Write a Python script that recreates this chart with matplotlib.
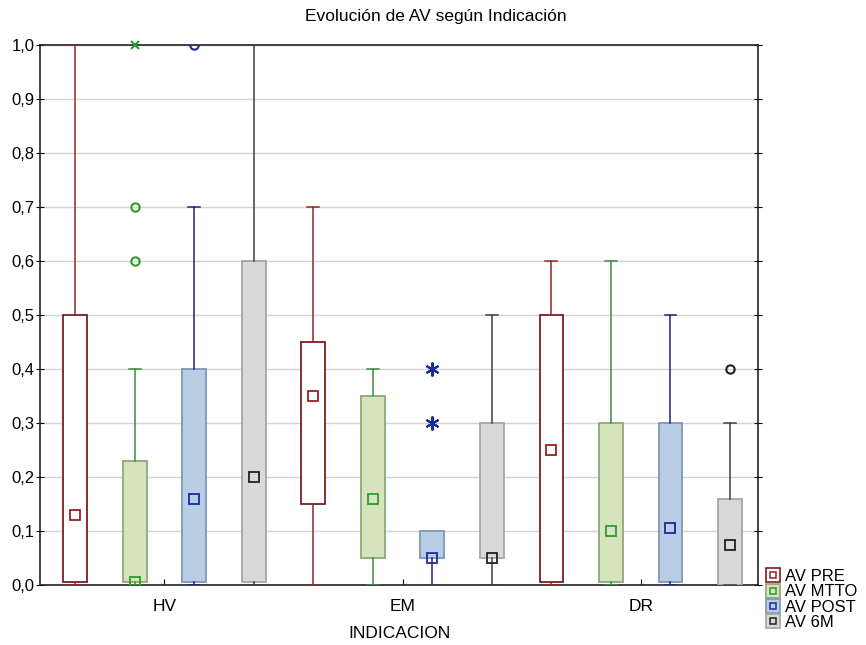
import matplotlib
matplotlib.use("Agg")
import matplotlib.pyplot as plt
from matplotlib.lines import Line2D
from matplotlib.legend_handler import HandlerTuple
from matplotlib.ticker import FuncFormatter, MultipleLocator

plt.rcParams['font.family'] = ['Liberation Sans', 'DejaVu Sans']

groups = ["HV", "EM", "DR"]
series = ["AV PRE", "AV MTTO", "AV POST", "AV 6M"]

# per series: values for HV, EM, DR
q1 = {"AV PRE": [0.005, 0.15, 0.005], "AV MTTO": [0.005, 0.05, 0.005],
      "AV POST": [0.005, 0.05, 0.005], "AV 6M": [0.005, 0.05, 0.0]}
q3 = {"AV PRE": [0.5, 0.45, 0.5], "AV MTTO": [0.23, 0.35, 0.3],
      "AV POST": [0.4, 0.1, 0.3], "AV 6M": [0.6, 0.3, 0.16]}
wlo = {"AV PRE": [0.0, 0.0, 0.0], "AV MTTO": [0.0, 0.0, 0.0],
       "AV POST": [0.0, 0.0, 0.0], "AV 6M": [0.0, 0.0, 0.0]}
whi = {"AV PRE": [1.0, 0.7, 0.6], "AV MTTO": [0.4, 0.4, 0.6],
       "AV POST": [0.7, 0.1, 0.5], "AV 6M": [1.0, 0.5, 0.3]}
center = {"AV PRE": [0.13, 0.35, 0.25], "AV MTTO": [0.005, 0.16, 0.1],
          "AV POST": [0.16, 0.05, 0.105], "AV 6M": [0.2, 0.05, 0.075]}
outliers = {"AV PRE": [[], [], []], "AV MTTO": [[0.6, 0.7], [], []],
            "AV POST": [[1.0], [], []], "AV 6M": [[], [], [0.4]]}
extremes = {"AV PRE": [[], [], []], "AV MTTO": [[1.0], [], []],
            "AV POST": [[], [0.3, 0.4], []], "AV 6M": [[], [], []]}

styles = {
    "AV PRE": dict(face="#ffffff", edge="#7a1f1f", whisk="#8b2a2a", mark="#9b2020"),
    "AV MTTO": dict(face="#d6e4bd", edge="#92a67c", whisk="#3c8c3c", mark="#2e9a2e"),
    "AV POST": dict(face="#b9cde5", edge="#8096b4", whisk="#22227a", mark="#1c2aa0"),
    "AV 6M": dict(face="#d9d9d9", edge="#a6a6a6", whisk="#404040", mark="#202020"),
}
ext_markers = {"AV MTTO": "x", "AV POST": (6, 2, 0)}
ext_sizes = {"AV MTTO": 6, "AV POST": 10}

fig = plt.figure(figsize=(8.66, 6.45), dpi=100)
ax = fig.add_axes([40/866, 60/645, 718/866, 540/645])

ns = len(series)
for si, s in enumerate(series):
    st = styles[s]
    stats = []
    pos = []
    capw = []
    for gi, g in enumerate(groups):
        stats.append(dict(q1=q1[s][gi], q3=q3[s][gi], med=center[s][gi],
                          mean=center[s][gi], whislo=wlo[s][gi], whishi=whi[s][gi],
                          fliers=[]))
        pos.append(gi * ns + si)
        capw.append(0.0 if whi[s][gi] <= q3[s][gi] else 0.2)
    ax.bxp(stats, positions=pos, widths=0.4, patch_artist=True, showmeans=True,
           boxprops=dict(facecolor=st["face"], edgecolor=st["edge"], linewidth=1.3),
           whiskerprops=dict(color=st["whisk"], linewidth=1.1),
           capprops=dict(color=st["whisk"], linewidth=1.1),
           capwidths=capw,
           medianprops=dict(linewidth=0),
           meanprops=dict(marker="s", markersize=7, markerfacecolor="none",
                          markeredgecolor=st["mark"], markeredgewidth=1.3),
           zorder=3)
    for gi in range(len(groups)):
        p = gi * ns + si
        ov = outliers[s][gi]
        if ov:
            ax.plot([p] * len(ov), ov, linestyle="none", marker="o", markersize=6,
                    markerfacecolor="none", markeredgecolor=st["mark"],
                    markeredgewidth=1.5, zorder=4, clip_on=True)
        ev = extremes[s][gi]
        if ev:
            ax.plot([p] * len(ev), ev, linestyle="none", marker=ext_markers[s],
                    markersize=ext_sizes[s], color=st["mark"], markeredgewidth=1.5,
                    zorder=4, clip_on=False)

ax.set_xlim(-0.59, 11.47)
ax.set_ylim(0, 1.0)
ax.yaxis.set_major_locator(MultipleLocator(0.1))
ax.yaxis.set_major_formatter(FuncFormatter(lambda v, _: f"{v:.1f}".replace(".", ",")))
ax.grid(axis="y", color="#d4d4d4", linewidth=1, zorder=0)
ax.set_axisbelow(True)
ax.set_xticks([1.5, 5.5, 9.5])
ax.set_xticklabels(groups, fontsize=12.5)
ax.set_xticks([0, 1, 2, 3, 4, 5, 6, 7, 8, 9, 10, 11], minor=True)
ax.tick_params(axis="x", which="minor", length=0)
ax.tick_params(axis="x", which="major", direction="in", length=4, pad=10)
ax.tick_params(axis="y", direction="inout", length=6, labelsize=12, right=True, pad=1)
for sp in ax.spines.values():
    sp.set_color("#222222")
    sp.set_linewidth(1.2)
fig.suptitle("Evolución de AV según Indicación", fontsize=12.5, x=0.503,
             y=1 - 17/645, va="center")
ax.set_xlabel("INDICACION", fontsize=12.5, labelpad=9)

handles = []
for s in series:
    st = styles[s]
    outer = Line2D([], [], linestyle="none", marker="s", markersize=10,
                   markerfacecolor=st["face"], markeredgecolor=st["edge"],
                   markeredgewidth=1.2)
    inner = Line2D([], [], linestyle="none", marker="s", markersize=5,
                   markerfacecolor="none", markeredgecolor=st["mark"],
                   markeredgewidth=1.1)
    handles.append((outer, inner))
fig.legend(handles, series, handler_map={tuple: HandlerTuple(ndivide=1)},
           loc="lower left", bbox_to_anchor=(760/866, 10/645), frameon=False,
           fontsize=12, handlelength=0.9, handletextpad=0.3, labelspacing=0.02,
           borderaxespad=0.0, borderpad=0.3)

fig.savefig("out.png", dpi=100)
